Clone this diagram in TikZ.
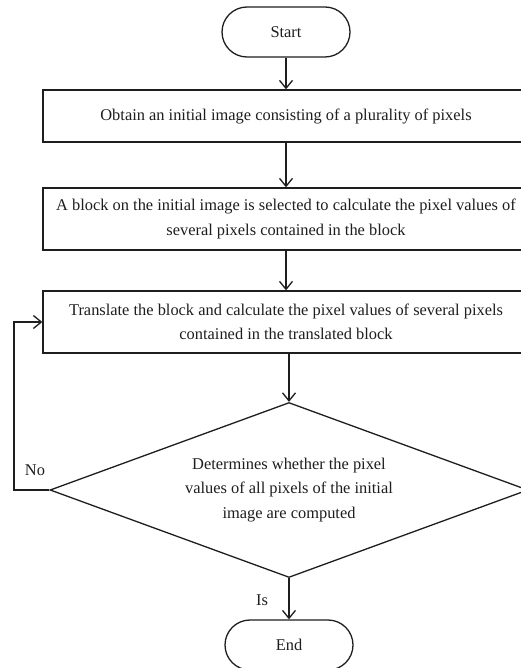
\documentclass[tikz,border=0pt]{standalone}
\usepackage{fontspec}
\setmainfont{Liberation Serif}
\usetikzlibrary{arrows.meta,shapes.geometric}
\definecolor{ink}{HTML}{1E1E1E}
\begin{document}
\begin{tikzpicture}[x=1pt,y=-1pt,
  every node/.style={font=\fontsize{16.4}{24.5}\selectfont, text=ink},
  term/.style={draw=ink, line width=1.3pt, rounded corners=25pt, minimum width=128pt, minimum height=50pt, inner sep=0pt},
  procbox/.style={draw=ink, line width=1.3pt, minimum width=486pt, inner sep=0pt, align=center},
  decide/.style={draw=ink, line width=1.3pt, diamond, shape aspect=2.73, minimum width=478pt, minimum height=175pt, inner sep=0pt, align=center},
  flow/.style={draw=ink, line width=1.3pt, -{Straight Barb[length=8pt,width=13pt,line width=1.3pt]}},
  lbl/.style={inner sep=0pt}]
\useasboundingbox (0,0) rectangle (521,668);
\clip (0,0) rectangle (521,668);
\fill[white] (0,0) rectangle (521,668);

\node[term] (start) at (286,32) {Start};
\node[procbox, minimum height=52pt] (b1) at (286,116) {Obtain an initial image consisting of a plurality of pixels};
\node[procbox, minimum height=62pt] (b2) at (286,219) {A block on the initial image is selected to calculate the pixel values of\\several pixels contained in the block};
\node[procbox, minimum height=62pt] (b3) at (286,322) {Translate the block and calculate the pixel values of several pixels\\contained in the translated block};
\node[decide] (d) at (289,490) {Determines whether the pixel\\values of all pixels of the initial\\image are computed};
\node[term] (end) at (289,645) {End};

\coordinate (loopA) at (14,490);
\coordinate (loopB) at (14,322);

\draw[flow] (start.south) -- (b1.north);
\draw[flow] (b1.south) -- (b2.north);
\draw[flow] (b2.south) -- (b3.north);
\draw[flow] (b3.south -| d.north) -- (d.north);
\draw[flow] (d.south) -- (end.north);
\draw[flow] (d.west) -- (loopA) -- (loopB) -- (b3.west);

\node[lbl] (no) at (35,470) {No};
\node[lbl] (is) at (262,600) {Is};
\end{tikzpicture}
\end{document}
